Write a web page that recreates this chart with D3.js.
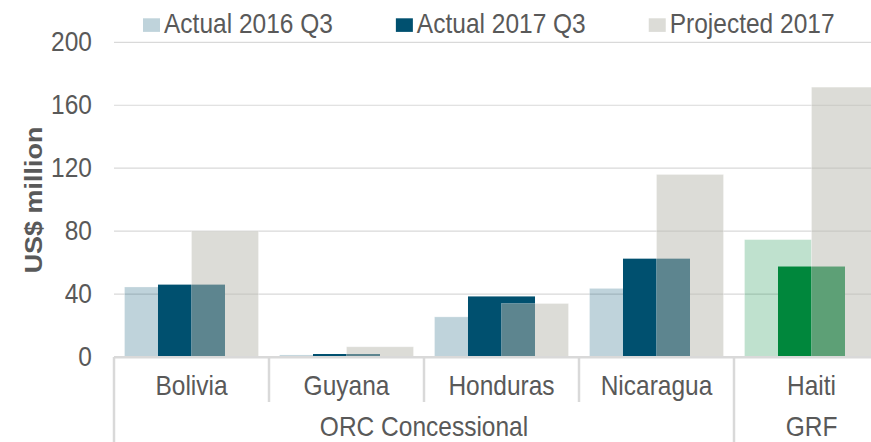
<!DOCTYPE html>
<html>
<head>
<meta charset="utf-8">
<script src="https://cdn.jsdelivr.net/npm/d3@7"></script>
<style>
  html, body { margin: 0; padding: 0; background: #fff; }
  svg { display: block; }
  text { font-family: "Liberation Sans", Arial, sans-serif; fill: #595959; }
</style>
</head>
<body>
<svg id="chart" width="871" height="442"></svg>
<script>
// Disbursements by country, US$ million
const countries = ["Bolivia", "Guyana", "Honduras", "Nicaragua", "Haiti"];
const countryGroup = ["ORC Concessional", "ORC Concessional", "ORC Concessional", "ORC Concessional", "GRF"];
const groupNames = ["ORC Concessional", "GRF"];
const seriesNames = ["Actual 2016 Q3", "Actual 2017 Q3", "Projected 2017"];
const actual2016Q3 = [44.5, 1.3, 25.5, 43.6, 74.6];
const actual2017Q3 = [46, 1.9, 38.5, 62.5, 57.5];
const projected2017 = [80, 6.5, 34, 116, 171.5];
const yTicks = [0, 40, 80, 120, 160, 200];

const W = 871, H = 442;
const plotLeft = 114, plotRight = W, plotTop = 42.3, plotBottom = 357;
const bandW = 155;
const textScale = 1.1;       // slightly tall lettering
const fontSize = 24.5;

const groupColor = { "ORC Concessional": "#00506F", "GRF": "#00873C" };
const projFill = "rgb(185,185,175)";

const svg = d3.select("#chart");

const x = d3.scaleBand()
  .domain(countries)
  .range([plotLeft, plotLeft + bandW * countries.length])
  .paddingInner(0).paddingOuter(0);

const y = d3.scaleLinear().domain([0, 200]).range([plotBottom, plotTop]);

const barW = x.bandwidth() * 0.4323;

// gridlines
svg.append("g").selectAll("line").data(yTicks.filter(d => d > 0)).join("line")
  .attr("x1", plotLeft).attr("x2", plotRight)
  .attr("y1", d => y(d)).attr("y2", d => y(d))
  .attr("stroke", "#d9d9d9").attr("stroke-width", 1.2);

// y tick labels
svg.append("g").selectAll("text").data(yTicks).join("text")
  .attr("transform", d => `translate(92,${y(d) + 8.5}) scale(1,${textScale})`)
  .attr("text-anchor", "end")
  .style("font-size", fontSize + "px")
  .text(d => d);

// y axis title
svg.append("text")
  .attr("transform", `translate(41.7,200) scale(1,${textScale}) rotate(-90)`)
  .attr("text-anchor", "middle")
  .style("font-size", fontSize + "px")
  .style("font-weight", "bold")
  .text("US$ million");

const rows = countries.map((c, i) => ({
  country: c,
  group: countryGroup[i],
  a16: actual2016Q3[i],
  a17: actual2017Q3[i],
  p17: projected2017[i]
}));
const cx = d => x(d.country) + x.bandwidth() / 2;

const bars = svg.append("g");

// Actual 2016 Q3: light tint of the group colour
bars.append("g").selectAll("rect").data(rows).join("rect")
  .attr("x", d => cx(d) - barW)
  .attr("width", barW)
  .attr("y", d => y(d.a16))
  .attr("height", d => y(0) - y(d.a16))
  .attr("fill", d => groupColor[d.group])
  .attr("fill-opacity", 0.25)
  .attr("stroke", "#fff").attr("stroke-opacity", 0.35).attr("stroke-width", 0.8);

// Actual 2017 Q3: solid group colour
bars.append("g").selectAll("rect").data(rows).join("rect")
  .attr("x", d => cx(d) - barW / 2)
  .attr("width", barW)
  .attr("y", d => y(d.a17))
  .attr("height", d => y(0) - y(d.a17))
  .attr("fill", d => groupColor[d.group]);

// Projected 2017: translucent grey on top
bars.append("g").selectAll("rect").data(rows).join("rect")
  .attr("x", d => cx(d))
  .attr("width", barW)
  .attr("y", d => y(d.p17))
  .attr("height", d => y(0) - y(d.p17))
  .attr("fill", projFill)
  .attr("fill-opacity", 0.5)
  .attr("stroke", "#fff").attr("stroke-opacity", 0.35).attr("stroke-width", 0.8);

// category axis baseline
svg.append("line")
  .attr("x1", plotLeft).attr("x2", plotRight)
  .attr("y1", y(0) + 0.2).attr("y2", y(0) + 0.2)
  .attr("stroke", "#d9d9d9").attr("stroke-width", 2.5);

// separators: between countries (short) and between groups (full height)
const groupStarts = groupNames.map(g => countries[countryGroup.indexOf(g)]);
const groupEnd = g => {
  const last = countries[countryGroup.lastIndexOf(g)];
  return x(last) + x.bandwidth();
};
const boundaries = countries.map(c => ({ pos: x(c), full: groupStarts.includes(c) }));
boundaries.push({ pos: groupEnd(groupNames[groupNames.length - 1]), full: true });

svg.append("g").selectAll("line").data(boundaries).join("line")
  .attr("x1", d => d.pos).attr("x2", d => d.pos)
  .attr("y1", y(0)).attr("y2", d => d.full ? H : 402)
  .attr("stroke", "#d9d9d9").attr("stroke-width", 2.5);

// country labels
svg.append("g").selectAll("text").data(countries).join("text")
  .attr("transform", c => `translate(${x(c) + x.bandwidth() / 2},395) scale(1,${textScale})`)
  .attr("text-anchor", "middle")
  .style("font-size", fontSize + "px")
  .text(c => c);

// group labels
svg.append("g").selectAll("text").data(groupNames).join("text")
  .attr("transform", g => {
    const start = x(countries[countryGroup.indexOf(g)]);
    return `translate(${(start + groupEnd(g)) / 2},436) scale(1,${textScale})`;
  })
  .attr("text-anchor", "middle")
  .style("font-size", fontSize + "px")
  .text(g => g);

// legend
const legendSwatch = [
  { fill: groupColor["ORC Concessional"], op: 0.25 },
  { fill: groupColor["ORC Concessional"], op: 1 },
  { fill: projFill, op: 0.5 }
];
const legend = svg.append("g");
let lx = 143;
seriesNames.forEach((name, i) => {
  legend.append("rect")
    .attr("x", lx).attr("y", 18.3)
    .attr("width", 17).attr("height", 13.6)
    .attr("fill", legendSwatch[i].fill)
    .attr("fill-opacity", legendSwatch[i].op);
  const t = legend.append("text")
    .attr("transform", `translate(${lx + 21},32.6) scale(1,${textScale})`)
    .style("font-size", fontSize + "px")
    .text(name);
  lx = lx + 21 + t.node().getComputedTextLength() + 63;
});
</script>
</body>
</html>
